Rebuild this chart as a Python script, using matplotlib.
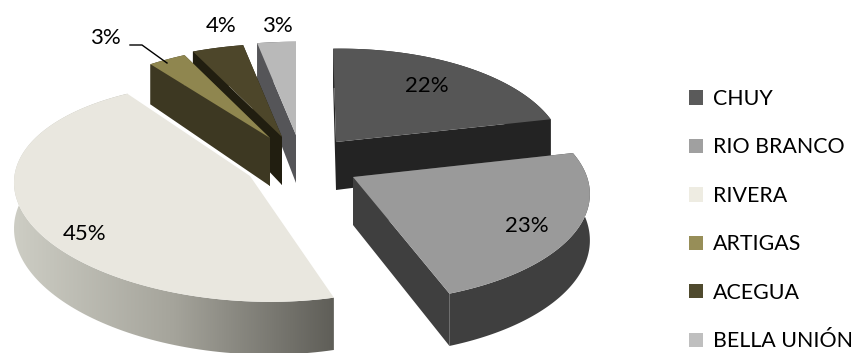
import numpy as np
from matplotlib import pyplot as plt
from matplotlib.colors import LinearSegmentedColormap
from matplotlib.patches import Patch, Polygon

plt.rcParams['font.family'] = ['Lato', 'DejaVu Sans']

categories = ["CHUY", "RIO BRANCO", "RIVERA", "ARTIGAS", "ACEGUA", "BELLA UNIÓN"]
shares = [22, 23, 45, 3, 4, 3]
share_labels = ["22%", "23%", "45%", "3%", "4%", "3%"]

top_colors = ["#565656", "#9a9a9a", "#e9e7df", "#8f864f", "#4d462a", "#b9b9b9"]
side_colors = ["#232323", "#3f3f3f", "#8f8e86", "#3d3822", "#211e10", "#555558"]
legend_colors = ["#5a5a5a", "#a0a0a0", "#eeece2", "#978e58", "#4f4a2e", "#bfbfbf"]

# where each exploded slice has its tip, and how wide / skewed it is drawn
tips = [(336, 142), (353, 177), (250, 176), (270, 138), (282, 137), (296, 135)]
widths = [0.95, 0.98, 0.985, 0.96, 1.0, 1.0]
shears = [0.03, 0.11, 0.0, 0.0, 0.0, 0.0]
tilts = [-0.015, -0.02, 0.04, -0.03, 0.0, 0.0]
draw_order = [5, 4, 2, 3, 0, 1]

label_spots = [(427, 86), (527, 226), (85, 234), (105, 38), (221, 26), (277, 26)]

RX = 237
RY = 107
PERSPECTIVE = 0.147
RIM_DEPTH = 45
TIP_DEPTH = 48


def project(theta, i):
    scale = 1 + PERSPECTIVE * np.cos(theta)
    dx = RX * widths[i] * np.sin(theta) / scale
    dy = -RY * np.cos(theta) / scale
    return tips[i][0] + dx + shears[i] * dy, tips[i][1] + dy + tilts[i] * dx, RIM_DEPTH / scale


fig = plt.figure(figsize=(8.56, 3.53), dpi=100)
ax = fig.add_axes([0, 0, 1, 1])
ax.set_xlim(0, 856)
ax.set_ylim(353, 0)
ax.axis("off")

edges = np.radians(np.concatenate([[0], np.cumsum(shares)]) * 3.6)
z = 1
for i in draw_order:
    tx, ty = tips[i]
    theta = np.linspace(edges[i], edges[i + 1], 120)
    x, y, d = project(theta, i)

    rim = np.column_stack([np.r_[x, x[::-1]], np.r_[y + d, y[::-1]]])
    if categories[i] == "RIVERA":
        # the long front wall fades from light on the left to dark on the right
        shade = LinearSegmentedColormap.from_list("wall", ["#cdcdc4", "#a5a49b", "#5f5e58"])
        clip = Polygon(rim, transform=ax.transData, facecolor="none", edgecolor="none")
        ax.add_patch(clip)
        img = ax.imshow(np.linspace(0, 1, 256).reshape(1, -1), cmap=shade, aspect="auto",
                        extent=(x.min(), x.max(), 353, 0), zorder=z)
        img.set_clip_path(clip)
    else:
        ax.add_patch(Polygon(rim, facecolor=side_colors[i], edgecolor="none", zorder=z))
        # the two cut faces running in from the rim to the tip
        for k in (0, -1):
            face = [(tx, ty), (x[k], y[k]), (x[k], y[k] + d[k]), (tx, ty + TIP_DEPTH)]
            ax.add_patch(Polygon(face, facecolor=side_colors[i], edgecolor="none", zorder=z))

    top = np.column_stack([np.r_[tx, x], np.r_[ty, y]])
    ax.add_patch(Polygon(top, facecolor=top_colors[i], edgecolor="none", zorder=z + 1))
    z += 2

ax.set_xlim(0, 856)
ax.set_ylim(353, 0)

for label, spot in zip(share_labels, label_spots):
    ax.text(spot[0], spot[1], label, ha="center", va="center", fontsize=16,
            color="black", zorder=30)

# leader line for the small ARTIGAS slice
ax.plot([130, 142, 167], [45, 45, 63], color="black", lw=1.0, zorder=30)

handles = [Patch(facecolor=c, edgecolor="none") for c in legend_colors]
legend = ax.legend(handles, categories, loc="upper left", bbox_to_anchor=(689 / 856, 1 - 89 / 353),
                   bbox_transform=fig.transFigure, frameon=False, fontsize=15.4,
                   handlelength=0.65, handleheight=0.65, handletextpad=0.47,
                   labelspacing=1.33, borderpad=0, borderaxespad=0)
legend.set_zorder(30)

fig.savefig("out.png", dpi=100)
plt.close(fig)
